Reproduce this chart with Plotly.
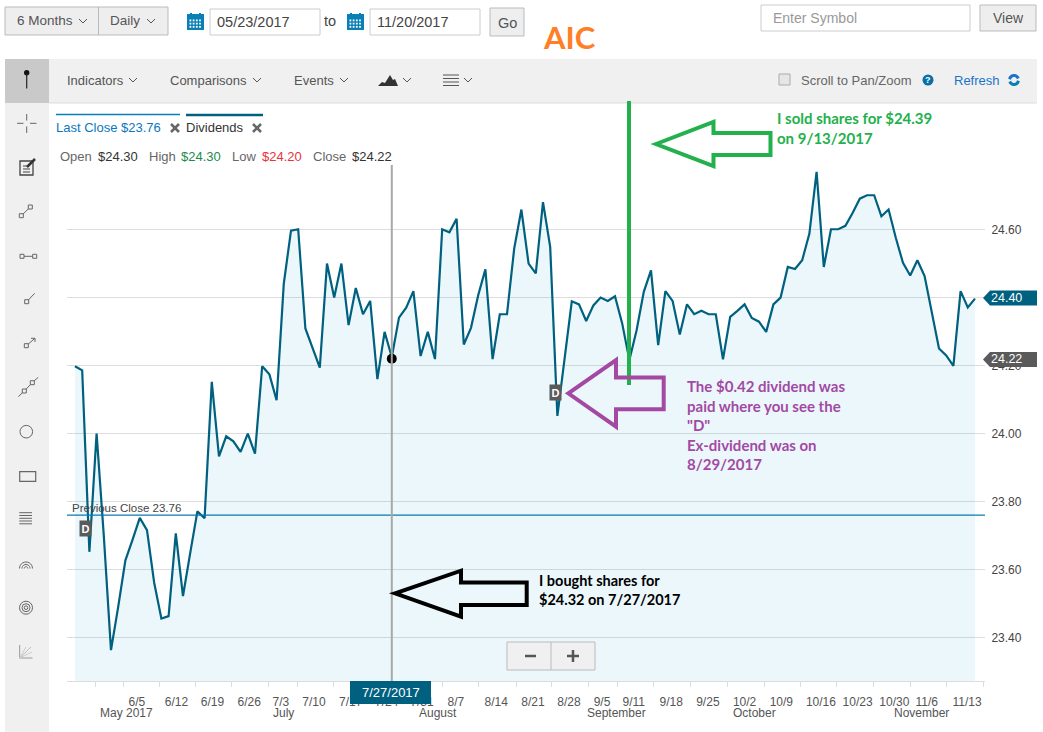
import math
import plotly.graph_objects as go

W = 1043
H = 732

# closing price per trading session
close = [
    24.198, 24.186, 23.652, 24.00, 23.70, 23.363, 23.49, 23.627, 23.688, 23.752,
    23.716, 23.561, 23.456, 23.463, 23.706, 23.522, 23.648, 23.771, 23.751, 24.152,
    23.933, 23.992, 23.977, 23.946, 24.00, 23.941, 24.198, 24.174, 24.098, 24.441,
    24.597, 24.601, 24.309, 24.25, 24.194, 24.50, 24.40, 24.50, 24.319, 24.428,
    24.351, 24.39, 24.16, 24.299, 24.225, 24.341, 24.37, 24.419, 24.228, 24.299,
    24.219, 24.601, 24.592, 24.632, 24.262, 24.311, 24.407, 24.483, 24.219, 24.351,
    24.351, 24.544, 24.659, 24.50, 24.471, 24.681, 24.549, 24.052, 24.22, 24.389,
    24.38, 24.331, 24.377, 24.40, 24.39, 24.404, 24.324, 24.216, 24.304, 24.417,
    24.48, 24.26, 24.419, 24.39, 24.291, 24.38, 24.351, 24.361, 24.351, 24.351,
    24.218, 24.343, 24.361, 24.38, 24.34, 24.329, 24.299, 24.38, 24.40, 24.49,
    24.484, 24.51, 24.588, 24.77, 24.49, 24.601, 24.601, 24.611, 24.649, 24.691,
    24.701, 24.701, 24.639, 24.659, 24.576, 24.502, 24.465, 24.51, 24.463, 24.353,
    24.25, 24.23, 24.199, 24.419, 24.371, 24.397,
]
sessions = list(range(len(close)))

tick_labels = ["6/5", "6/12", "6/19", "6/26", "7/3", "7/10", "7/17", "7/24", "7/31", "8/7",
               "8/14", "8/21", "8/28", "9/5", "9/11", "9/18", "9/25", "10/2", "10/9", "10/16",
               "10/23", "10/30", "11/6", "11/13"]
tick_label_at = [8.6, 14.1, 19.1, 24.2, 28.6, 33.2, 38.3, 43.3, 48.2, 52.9,
                 58.5, 63.6, 68.6, 73.2, 77.6, 82.8, 87.9, 93, 98.1, 103.6,
                 108.7, 113.8, 118.3, 123.9]
week_ticks = [2.8, 6.7, 11.8, 16.8, 21.8, 26.9, 30.9, 35.9, 41, 46, 51, 56.1, 61.3, 66.2,
              71.3, 75.3, 80.4, 85.5, 90.6, 95.7, 100.7, 105.8, 110.9, 116, 121.1, 126.2]
months = ["May 2017", "July", "August", "September", "October", "November"]
month_at = [7.2, 29, 50.4, 75.2, 94.4, 117.6]
y_ticks = [23.4, 23.6, 23.8, 24.0, 24.2, 24.4, 24.6]

previous_close = 23.76
cursor_session = 44
cursor_price = 24.22
last_price = 24.40
dividend_at = [1.5, 66.7]
dividend_price = [23.72, 24.12]

BLUE = "#0a7fb5"
DARK = "#00607f"
PANEL = "#f0f0f0"
SANS = "Liberation Sans"
NOTE = "Lato"

shapes = []
annotations = []


def X(px):
    return px / W


def Y(py):
    return 1 - py / H


def box(x0, y0, x1, y1, fill=None, line=None, lw=1):
    shapes.append(dict(type="rect", xref="paper", yref="paper", x0=X(x0), x1=X(x1), y0=Y(y0), y1=Y(y1),
                       fillcolor=fill or "rgba(0,0,0,0)",
                       line=dict(color=line or "rgba(0,0,0,0)", width=lw if line else 0)))


def poly(points, color=None, lw=1, fill=None, closed=False):
    d = "M " + " L ".join("%.5f %.5f" % (X(p[0]), Y(p[1])) for p in points)
    if closed:
        d += " Z"
    shapes.append(dict(type="path", xref="paper", yref="paper", path=d,
                       fillcolor=fill or "rgba(0,0,0,0)",
                       line=dict(color=color or "rgba(0,0,0,0)", width=lw if color else 0)))


def ring(cx, cy, r, color=None, lw=1, fill=None):
    shapes.append(dict(type="circle", xref="paper", yref="paper", x0=X(cx - r), x1=X(cx + r),
                       y0=Y(cy + r), y1=Y(cy - r), fillcolor=fill or "rgba(0,0,0,0)",
                       line=dict(color=color or "rgba(0,0,0,0)", width=lw if color else 0)))


def arc(cx, cy, r, a0, a1, color, lw=1):
    pts = []
    for k in range(13):
        a = math.radians(a0 + (a1 - a0) * k / 12)
        pts.append((cx + r * math.cos(a), cy - r * math.sin(a)))
    poly(pts, color, lw)


def label(px, py, text, size=13, color="#555555", anchor="left", bold=False, family=SANS):
    if bold:
        text = "<b>" + text + "</b>"
    # annotations pad their text by 2px on the left
    if anchor == "left":
        px -= 2
    annotations.append(dict(xref="paper", yref="paper", x=X(px), y=Y(py), xanchor=anchor, yanchor="middle",
                            showarrow=False, text=text, align="left",
                            font=dict(size=size, color=color, family=family)))


def chevron(cx, cy, color="#555555"):
    poly([(cx - 4, cy - 2), (cx, cy + 2), (cx + 4, cy - 2)], color, 1)


def calendar(x0, y0):
    box(x0, y0 + 1, x0 + 17, y0 + 17, BLUE)
    box(x0 + 3, y0, x0 + 5, y0 + 3, BLUE)
    box(x0 + 12, y0, x0 + 14, y0 + 3, BLUE)
    for r in range(3):
        for c in range(4):
            box(x0 + 2.5 + c * 3.2, y0 + 6.5 + r * 3.2, x0 + 4.3 + c * 3.2, y0 + 8.3 + r * 3.2, "#ffffff")


# top controls
box(5, 7, 168, 35, "#eeeeee", "#bbbbbb")
poly([(98.5, 7), (98.5, 35)], "#bbbbbb")
label(17, 21, "6 Months", 13.5)
chevron(83, 21)
label(110, 21, "Daily", 13.5)
chevron(151, 21)
calendar(187, 13)
box(210, 9, 320, 35, "#ffffff", "#cccccc")
label(217, 22, "05/23/2017", 14.5, "#444444")
label(324, 21, "to", 14.5, "#444444")
calendar(347, 13)
box(370, 9, 480, 35, "#ffffff", "#cccccc")
label(377, 22, "11/20/2017", 14.5, "#444444")
box(490, 8, 524, 36, "#eeeeee", "#bbbbbb")
label(507, 23, "Go", 14.5, "#555555", "center")
label(569, 37, "AIC", 31, "#ff7f27", "center", True, NOTE)
box(761, 5, 970, 31, "#ffffff", "#cccccc")
label(773, 18, "Enter Symbol", 14, "#999999")
box(980, 5, 1036, 31, "#eeeeee", "#bbbbbb")
label(1008, 18, "View", 14, "#555555", "center")

# tool bar and side panel
box(49, 59, 1037, 103, PANEL)
poly([(49, 103), (1037, 103)], "#dddddd")
box(5, 59, 49, 732, PANEL)
box(5, 59, 49, 103, "#c9c9c9")
label(67, 81, "Indicators", 13)
chevron(133, 80)
label(170, 81, "Comparisons", 13)
chevron(257, 80)
label(294, 81, "Events", 13)
chevron(344, 80)
poly([(378, 86), (382, 82), (385, 83), (390, 75), (393, 80), (395, 79), (398, 86)], fill="#333333", closed=True)
chevron(407, 80)
for ly in [75, 78.5, 82, 85.5]:
    poly([(443, ly), (459, ly)], "#555555")
chevron(468, 80)
box(779, 74, 790, 85, "#e6e6e6", "#aaaaaa")
label(801, 80, "Scroll to Pan/Zoom", 13, "#666666")
ring(928, 80, 5.5, fill="#0a6fa8")
label(928, 80, "?", 9, "#ffffff", "center", True)
label(954, 80, "Refresh", 13, "#1a73c8")
arc(1014, 80, 4.5, 20, 170, "#1a73c8", 3)
arc(1014, 80, 4.5, 200, 350, BLUE, 3)

# tabs and price read-out
poly([(56, 114.5), (180, 114.5)], BLUE, 1.5)
label(56, 127, "Last Close $23.76", 13, "#0a78c0")
poly([(171, 124), (179, 132)], "#666666", 2.5)
poly([(171, 132), (179, 124)], "#666666", 2.5)
poly([(186, 115), (263, 115)], DARK, 2.5)
label(186, 128, "Dividends", 13, "#333333")
poly([(253, 124), (261, 132)], "#666666", 2.5)
poly([(253, 132), (261, 124)], "#666666", 2.5)
label(60, 157, "Open", 13, "#666666")
label(98, 157, "$24.30", 13, "#333333")
label(149, 157, "High", 13, "#666666")
label(181, 157, "$24.30", 13, "#1e8a4c")
label(232, 157, "Low", 13, "#666666")
label(262, 157, "$24.20", 13, "#e8323c")
label(313, 157, "Close", 13, "#666666")
label(352, 157, "$24.22", 13, "#333333")

# side panel icons
ICON = "#666666"
ring(26.7, 72.7, 2.7, fill="#111111")
poly([(26.7, 73), (26.7, 88.5)], "#222222", 1.2)
for seg in [[(17, 123.3), (23.5, 123.3)], [(30, 123.3), (36.5, 123.3)], [(26.7, 114), (26.7, 120.5)], [(26.7, 126.5), (26.7, 133)]]:
    poly(seg, ICON)
box(20, 161, 33, 175, None, "#444444", 1.3)
poly([(23, 166), (28, 166)], "#444444")
poly([(23, 169), (30, 169)], "#444444")
poly([(23, 172), (30, 172)], "#444444")
poly([(27, 167), (35, 159)], "#333333", 2.5)
for a, b in [((21.3, 215.7), (30.3, 207)), ((22, 256.3), (34.7, 256.3)), ((24.3, 391), (32.3, 382.7))]:
    poly([a, b], ICON)
    box(a[0] - 2, a[1] - 2, a[0] + 2, a[1] + 2, PANEL, ICON)
    box(b[0] - 2, b[1] - 2, b[0] + 2, b[1] + 2, PANEL, ICON)
poly([(18.3, 396.7), (22.5, 392.7)], ICON)
poly([(34, 381), (38.3, 377.3)], ICON)
poly([(26.7, 301.7), (34.7, 293.3)], ICON)
box(24.7, 299.7, 28.7, 303.7, PANEL, ICON)
poly([(26.3, 345.7), (35, 338.3)], ICON)
poly([(31, 338.3), (35, 338.3), (35, 342)], ICON)
box(24.3, 343.7, 28.3, 347.7, PANEL, ICON)
ring(26.3, 431.7, 6.3, ICON)
box(19.7, 471.7, 35.7, 481.3, None, ICON, 1.2)
for ly in [512.7, 515.5, 518.3, 521, 523.8]:
    poly([(19.3, ly), (32, ly)], ICON)
for r in [6.5, 4, 1.8]:
    arc(26, 568.5, r, 0, 180, ICON)
    ring(26, 607.7, r, ICON)
poly([(19.7, 645), (19.7, 658), (32.5, 658)], "#999999")
poly([(19.7, 658), (31, 647)], "#bbbbbb")
poly([(19.7, 658), (26, 647)], "#cccccc")
poly([(19.7, 658), (32, 652)], "#cccccc")

# chart furniture
shapes.append(dict(type="line", xref="x domain", yref="y", x0=0, x1=1, y0=previous_close, y1=previous_close,
                   line=dict(color="#0a78ab", width=1.2)))
shapes.append(dict(type="line", xref="x", yref="y domain", x0=cursor_session, x1=cursor_session, y0=0, y1=1,
                   line=dict(color="#a8a8a8", width=2)))
label(72, 508, "Previous Close 23.76", 11.5, "#444444")

for xv, yv in zip(dividend_at, dividend_price):
    annotations.append(dict(xref="x", yref="y", x=xv, y=yv, text="<b>D</b>", showarrow=False,
                            bgcolor="#5a5a5a", borderpad=1.5, font=dict(size=11, color="#ffffff", family=SANS)))

poly([(983, 298), (990, 290.5), (1037, 290.5), (1037, 305.5), (990, 305.5)], fill=DARK, closed=True)
label(991, 298, "%.2f" % last_price, 12.5, "#ffffff")
poly([(983, 359.5), (990, 352), (1037, 352), (1037, 367), (990, 367)], fill="#5a5a5a", closed=True)
label(991, 359, "%.2f" % cursor_price, 12.5, "#ffffff")

box(350, 681, 431, 704, DARK)
label(390.5, 692.5, "7/27/2017", 13, "#ffffff", "center")

for name, at in zip(months, month_at):
    annotations.append(dict(xref="x", yref="paper", x=at, y=Y(713), text=name, showarrow=False, xanchor="center",
                            yanchor="middle", font=dict(size=12, color="#555555", family=SANS)))

box(507, 642, 595, 670, PANEL, "#bbbbbb")
poly([(551, 642), (551, 670)], "#bbbbbb")
poly([(525, 656), (536, 656)], "#555555", 2.5)
poly([(567, 656), (579, 656)], "#555555", 2.5)
poly([(573, 650), (573, 662)], "#555555", 2.5)

# hand drawn notes
GREEN = "#22b14c"
PURPLE = "#a349a4"
poly([(629, 101), (629, 385)], GREEN, 4)
poly([(656, 144), (713.5, 122), (713.5, 133), (770.5, 133), (770.5, 155), (713.5, 155), (713.5, 166)],
     GREEN, 4, closed=True)
poly([(568.3, 393.3), (616, 360), (616, 377.5), (663.7, 377.5), (663.7, 409.3), (616, 409.3), (616, 426.7)],
     PURPLE, 4, closed=True)
poly([(395, 593.3), (461, 570.7), (461, 582.5), (526.7, 582.5), (526.7, 605), (461, 605), (461, 616.7)],
     "#000000", 4, closed=True)
label(777, 128, "I sold shares for $24.39<br>on 9/13/2017", 15, GREEN, bold=True, family=NOTE)
label(687, 425, "The $0.42 dividend was<br>paid where you see the<br>\"D\"<br>Ex-dividend was on<br>8/29/2017", 15, PURPLE, bold=True, family=NOTE)
label(539, 590, "I bought shares for<br>$24.32 on 7/27/2017", 14.5, "#000000", bold=True, family=NOTE)

fig = go.Figure()
fig.add_trace(go.Scatter(x=sessions, y=close, mode="lines", fill="tozeroy",
                         fillcolor="rgba(0,150,210,0.08)", line=dict(color=DARK, width=2.2)))
fig.add_trace(go.Scatter(x=[cursor_session], y=[cursor_price], mode="markers",
                         marker=dict(color="#000000", size=10)))

fig.update_layout(
    width=W, height=H, showlegend=False, hovermode=False,
    margin=dict(l=0, r=0, t=0, b=0), paper_bgcolor="#ffffff", plot_bgcolor="#ffffff",
    font=dict(family=SANS, size=12, color="#555555"),
    shapes=shapes, annotations=annotations,
    xaxis=dict(domain=[X(67), X(985)], range=[-1.11, 126.39], tickmode="array",
               tickvals=tick_label_at, ticktext=tick_labels, ticks="outside", ticklen=10,
               tickcolor="rgba(0,0,0,0)", showgrid=False, zeroline=False, showline=True, linecolor="#dddddd",
               minor=dict(tickmode="array", tickvals=week_ticks, ticks="outside", ticklen=5, tickcolor="#dddddd",
                          showgrid=False)),
    yaxis=dict(domain=[Y(681), Y(165)], range=[23.272, 24.79], side="right", tickmode="array",
               tickvals=y_ticks, ticktext=["%.2f" % v for v in y_ticks], ticks="outside", ticklen=3,
               tickcolor="rgba(0,0,0,0)", gridcolor="#dddddd", zeroline=False, showline=False,
               tickfont=dict(size=12, color="#444444")),
)

# page margin off, so the figure fills the window
fig.write_html("out.html", config={"displayModeBar": False}, post_script="document.body.style.margin='0';")
